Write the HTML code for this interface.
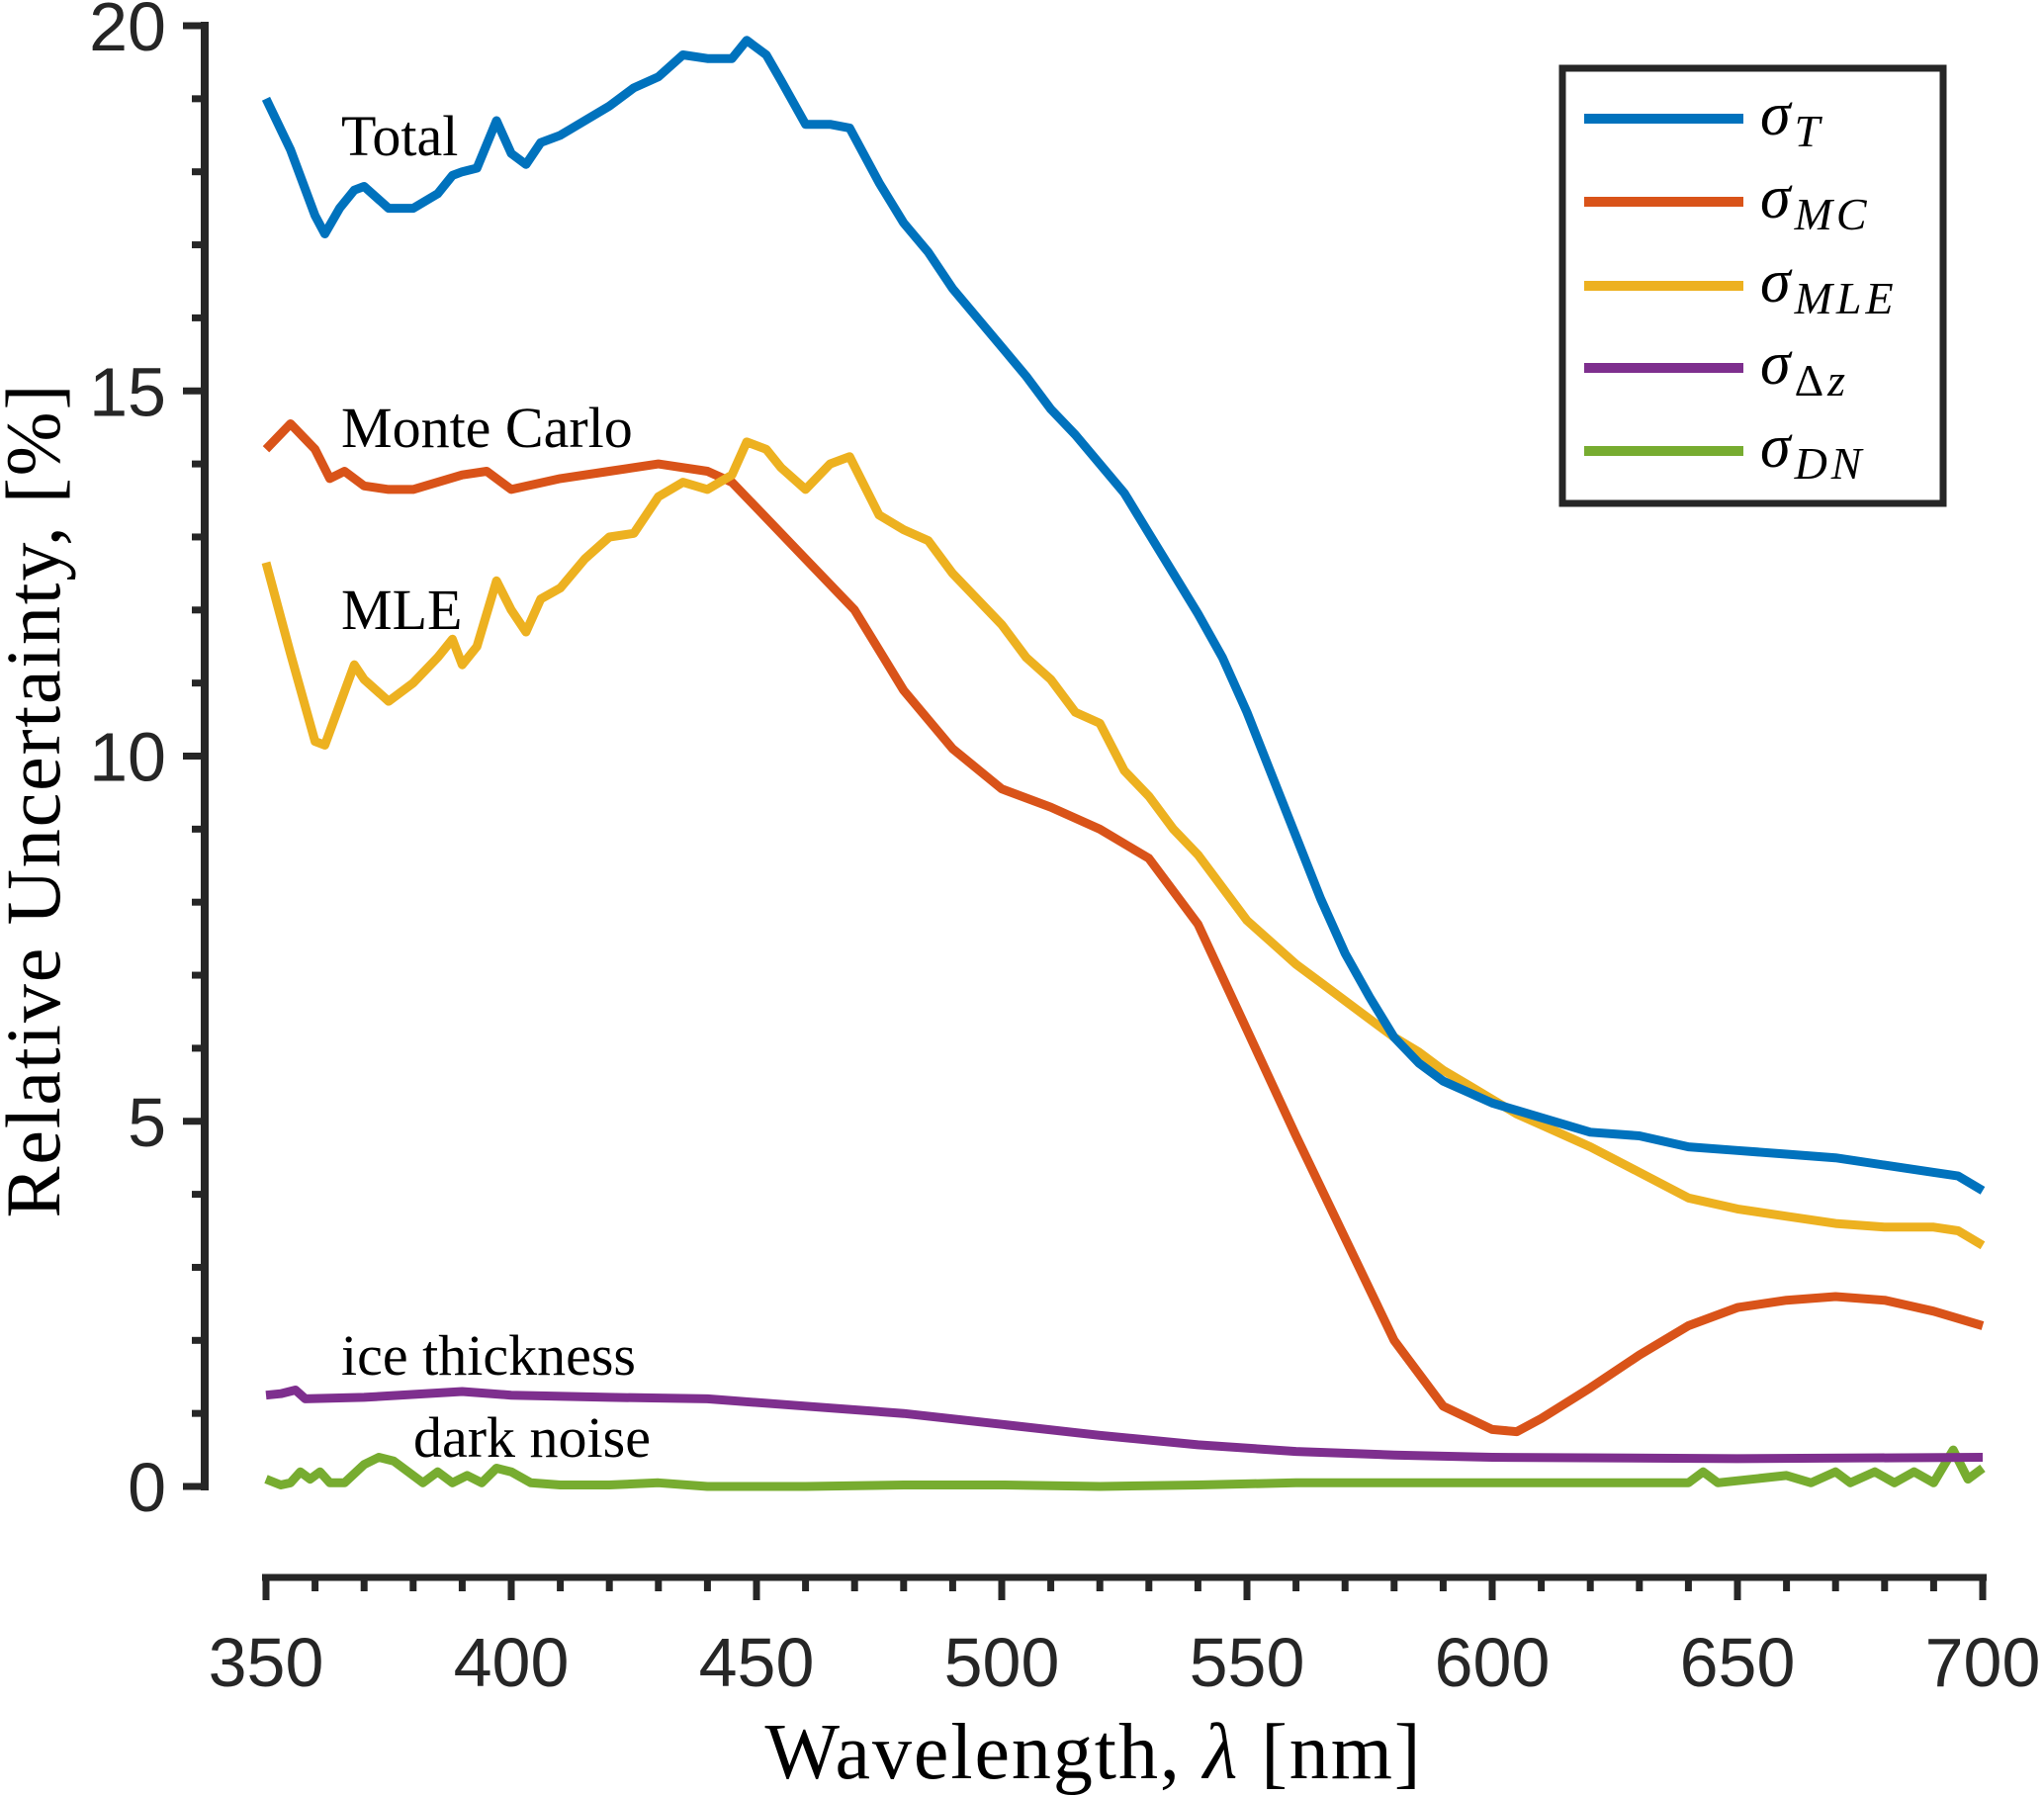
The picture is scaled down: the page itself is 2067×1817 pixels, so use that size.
<!DOCTYPE html>
<html><head><meta charset="utf-8"><style>
html,body{margin:0;padding:0;background:#fff;}
svg{display:block;}
.tick{font-family:"Liberation Sans",Arial,sans-serif;font-size:70px;fill:#262626;}
.serif{font-family:"Liberation Serif","Times New Roman",serif;fill:#000;}
</style></head><body>
<svg id="chart" width="2067" height="1817" viewBox="0 0 2067 1817" xmlns="http://www.w3.org/2000/svg">
<g id="axes"></g>
<g id="series"></g>
<g id="labels">
<text class="serif" x="345" y="157" font-size="58">Total</text>
<text class="serif" x="345" y="452" font-size="58">Monte Carlo</text>
<text class="serif" x="345" y="636" font-size="58">MLE</text>
<text class="serif" x="345" y="1390" font-size="58">ice thickness</text>
<text class="serif" x="418" y="1473" font-size="58">dark noise</text>
<text class="serif" x="1105" y="1798" font-size="80" text-anchor="middle" textLength="663">Wavelength, <tspan font-style="italic">λ</tspan> [nm]</text>
<text class="serif" transform="translate(60,810) rotate(-90)" font-size="78" text-anchor="middle" textLength="843">Relative Uncertainty, [%]</text>
</g>
<g id="legend">
<rect x="1580" y="69" width="385" height="440" fill="#fff" stroke="#262626" stroke-width="7"/>
</g>
</svg>
<script>
const xs = [350,355,360,362,365,368,370,375,380,385,388,390,393,397,400,403,406,410,415,420,425,430,435,440,445,448,452,455,460,465,469,475,480,485,490,495,500,505,510,515,520,525,530,535,540,545,550,555,560,565,570,575,580,585,590,595,600,605,610,620,630,640,650,660,670,680,690,695,700];
const totalVals = [19.0,18.3,17.4,17.15,17.5,17.75,17.8,17.5,17.5,17.7,17.95,18.0,18.05,18.7,18.25,18.1,18.4,18.5,18.7,18.9,19.15,19.3,19.6,19.55,19.55,19.8,19.6,19.25,18.65,18.65,18.6,17.85,17.3,16.9,16.4,16.0,15.6,15.2,14.75,14.4,14.0,13.6,13.05,12.5,11.95,11.35,10.6,9.75,8.9,8.05,7.3,6.7,6.15,5.8,5.55,5.4,5.25,5.15,5.05,4.85,4.8,4.65,4.6,4.55,4.5,4.4,4.3,4.25,4.05];
const mleVals = [12.65,11.4,10.2,10.15,10.7,11.25,11.05,10.75,11.0,11.35,11.6,11.25,11.5,12.4,12.0,11.7,12.15,12.3,12.7,13.0,13.05,13.55,13.75,13.65,13.85,14.3,14.2,13.95,13.65,14.0,14.1,13.3,13.1,12.95,12.5,12.15,11.8,11.35,11.05,10.6,10.45,9.8,9.45,9.0,8.65,8.2,7.75,7.45,7.15,6.9,6.65,6.4,6.15,5.95,5.7,5.5,5.3,5.1,4.95,4.65,4.3,3.95,3.8,3.7,3.6,3.55,3.55,3.5,3.3];
const mcX = [350,355,360,363,366,370,375,380,390,395,400,410,420,430,440,445,450,460,470,480,490,500,510,520,530,540,550,560,570,580,590,600,605,610,620,630,640,650,660,670,680,690,700];
const mcVals = [14.2,14.55,14.2,13.8,13.9,13.7,13.65,13.65,13.85,13.9,13.65,13.8,13.9,14.0,13.9,13.75,13.4,12.7,12.0,10.9,10.1,9.55,9.3,9.0,8.6,7.7,6.25,4.8,3.4,2.0,1.1,0.78,0.75,0.93,1.35,1.8,2.2,2.45,2.55,2.6,2.55,2.4,2.2];
const dzX = [350,353,356,358,370,390,400,420,440,460,480,500,520,540,560,580,600,650,700];
const dzVals = [1.25,1.27,1.32,1.2,1.22,1.3,1.25,1.22,1.2,1.1,1.0,0.85,0.7,0.57,0.48,0.43,0.4,0.38,0.4];
const dnX = [350,353,355,357,359,361,363,366,370,373,376,379,382,385,388,391,394,397,400,404,410,420,430,440,460,480,500,520,540,560,580,600,620,640,643,646,660,665,670,673,678,682,686,690,694,697,700];
const dnVals = [0.1,0.02,0.05,0.2,0.1,0.2,0.05,0.05,0.3,0.4,0.35,0.2,0.05,0.2,0.05,0.15,0.05,0.25,0.2,0.05,0.02,0.02,0.05,0.0,0.0,0.02,0.02,0.0,0.02,0.05,0.05,0.05,0.05,0.05,0.2,0.05,0.15,0.05,0.2,0.05,0.2,0.05,0.2,0.05,0.5,0.1,0.25];
const xTicks = [350,400,450,500,550,600,650,700];
const yTicks = [0,5,10,15,20];

const X0=269, X1=2005, Y0=1503, Y20=26;
function sx(v){return X0+(v-350)*(X1-X0)/350;}
function sy(v){return Y0-(v)*(Y0-Y20)/20;}
const NS="http://www.w3.org/2000/svg";
function mk(tag,attrs,parent){const e=document.createElementNS(NS,tag);for(const k in attrs)e.setAttribute(k,attrs[k]);parent.appendChild(e);return e;}
const axes=document.getElementById('axes');
const C="#262626";
let yl=mk('line',{x1:207,y1:sy(20)-4,x2:207,y2:sy(0)+4,stroke:C,'stroke-width':8},axes);


for(let v=0;v<=20;v++){
  const major=v%5===0;
  const t=mk('line',{x1:major?185:194,y1:sy(v),x2:207,y2:sy(v),stroke:C,'stroke-width':7},axes);
  
  
}
yTicks.forEach(v=>{
  const t=mk('text',{x:168,y:sy(v)+25,'text-anchor':'end',class:'tick'},axes);
  t.textContent=v;
  
  
});
let xl=mk('line',{x1:sx(350)-4,y1:1595,x2:sx(700)+4,y2:1595,stroke:C,'stroke-width':7},axes);


for(let v=350;v<=700;v+=10){
  const major=v%50===0;
  const t=mk('line',{x1:sx(v),y1:1595,x2:sx(v),y2:major?1618:1609,stroke:C,'stroke-width':7},axes);
  
  
}
xTicks.forEach(v=>{
  const t=mk('text',{x:sx(v),y:1705,'text-anchor':'middle',class:'tick'},axes);
  t.textContent=v;
  
  
});
const ser=document.getElementById('series');
function line(xa,ya,color,name){
  const d=xa.map((x,i)=>(i?'L':'M')+sx(x).toFixed(1)+','+sy(ya[i]).toFixed(1)).join(' ');
  const p=mk('path',{d:d,fill:'none',stroke:color,'stroke-width':9,'stroke-linejoin':'round'},ser);
  
  
}
line(dnX,dnVals,'#77AC30','series-dark-noise');
line(dzX,dzVals,'#7E2F8E','series-ice-thickness');
line(mcX,mcVals,'#D95319','series-monte-carlo');
line(xs,mleVals,'#EDB120','series-mle');
line(xs,totalVals,'#0072BD','series-total');
const lg=document.getElementById('legend');
const entries=[['#0072BD','T'],['#D95319','MC'],['#EDB120','MLE'],['#7E2F8E','Δz'],['#77AC30','DN']];
const rows=[120,204,289,372,456];
entries.forEach((e,i)=>{
  const l=mk('line',{x1:1602,y1:rows[i],x2:1763,y2:rows[i],stroke:e[0],'stroke-width':10},lg);
  
  
  const t=mk('text',{x:1780,y:rows[i]+16,class:'serif','font-size':62,'font-style':'italic'},lg);
  
  
  const s1=document.createElementNS(NS,'tspan');s1.textContent='σ';t.appendChild(s1);
  const s2=document.createElementNS(NS,'tspan');s2.setAttribute('dy','12');s2.setAttribute('dx','4');s2.setAttribute('font-size','46');
  s2.setAttribute('letter-spacing','4');
  if(e[1]==='Δz'){s2.setAttribute('font-style','normal');s2.innerHTML='Δ<tspan font-style="italic">z</tspan>';}else{s2.textContent=e[1];}
  t.appendChild(s2);
});
</script>
</body></html>
